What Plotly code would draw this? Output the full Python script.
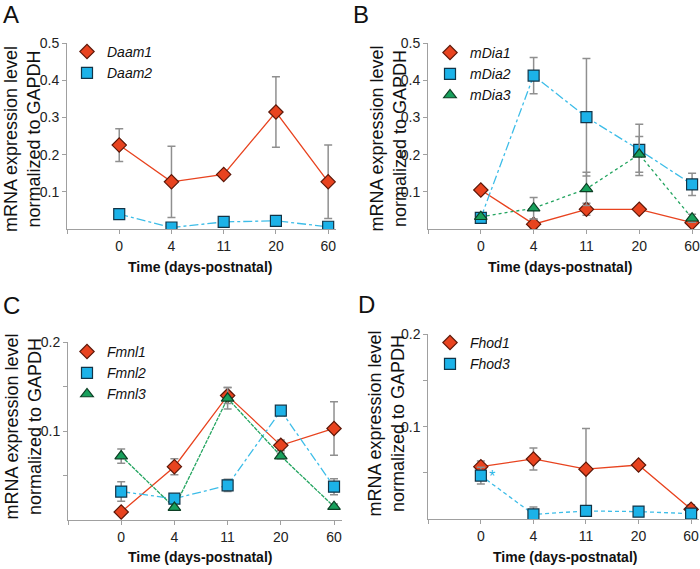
import plotly.graph_objects as go

W, H = 700, 569

days = ["0", "4", "11", "20", "60"]

# Panel A
daam1 = [0.226, 0.127, 0.147, 0.315, 0.127]
daam1_err = [0.044, 0.096, 0.0, 0.095, 0.099]
daam2 = [0.040, 0.004, 0.019, 0.022, 0.006]
daam2_err = [0.0, 0.0, 0.0, 0.0, 0.0]

# Panel B
mdia1 = [0.105, 0.013, 0.053, 0.053, 0.017]
mdia1_err = [0.007, 0.013, 0.016, 0.006, 0.006]
mdia2 = [0.030, 0.413, 0.301, 0.213, 0.120]
mdia2_err = [0.005, 0.049, 0.158, 0.069, 0.030]
mdia3 = [0.033, 0.056, 0.108, 0.201, 0.029]
mdia3_err = [0.004, 0.029, 0.045, 0.048, 0.011]

# Panel C
fmnl1 = [0.009, 0.060, 0.140, 0.084, 0.103]
fmnl1_err = [0.0, 0.009, 0.009, 0.006, 0.030]
fmnl2 = [0.032, 0.024, 0.039, 0.123, 0.0375]
fmnl2_err = [0.011, 0.0, 0.007, 0.0, 0.009]
fmnl3 = [0.072, 0.014, 0.137, 0.072, 0.015]
fmnl3_err = [0.008, 0.0, 0.012, 0.003, 0.003]

# Panel D
fhod1 = [0.0567, 0.065, 0.054, 0.0585, 0.0105]
fhod1_err = [0.006, 0.012, 0.044, 0.002, 0.005]
fhod3 = [0.047, 0.005, 0.0087, 0.008, 0.0058]
fhod3_err = [0.009, 0.008, 0.0, 0.0, 0.0]

RED = dict(fill="#e8431f", edge="#5c1708", line="#e8431f", symbol="diamond", size=11)
BLUE = dict(fill="#1cb2e8", edge="#123447", line="#3dbde8", symbol="square", size=11)
GREEN = dict(fill="#18a05c", edge="#0c3f24", line="#22a45f", symbol="triangle-up", size=11)
ERRC = "#8f8f8f"
AXC = "#a0a0a0"
FONT = "Liberation Sans, Arial, sans-serif"

xs = list(range(len(days)))

fig = go.Figure()


def px2x(p):
    return p / W


def px2y(p):
    return 1 - p / H


panels = [
    ("A", (67, 336), (43.3, 229), 0.5,
     [("Daam1", daam1, daam1_err, RED, "solid"),
      ("Daam2", daam2, daam2_err, BLUE, "dashdot")]),
    ("B", (428, 700), (43.3, 229), 0.5,
     [("mDia1", mdia1, mdia1_err, RED, "solid"),
      ("mDia2", mdia2, mdia2_err, BLUE, "dashdot"),
      ("mDia3", mdia3, mdia3_err, GREEN, "dot")]),
    ("C", (68, 342), (342.3, 520), 0.2,
     [("Fmnl1", fmnl1, fmnl1_err, RED, "solid"),
      ("Fmnl2", fmnl2, fmnl2_err, BLUE, "dashdot"),
      ("Fmnl3", fmnl3, fmnl3_err, GREEN, "4px,1px")]),
    ("D", (428.3, 699), (334.3, 519), 0.2,
     [("Fhod1", fhod1, fhod1_err, RED, "solid"),
      ("Fhod3", fhod3, fhod3_err, BLUE, "4px,3px")]),
]

legend_pos = {"A": (67, 36), "B": (430, 37), "C": (67, 336), "D": (430, 327)}

layout = dict(
    width=W, height=H, margin=dict(l=0, r=0, t=0, b=0, autoexpand=False),
    paper_bgcolor="white", plot_bgcolor="white",
    font=dict(family=FONT, size=14, color="#222"),
    annotations=[],
)

for i, (name, xd, yd, ymax, series) in enumerate(panels):
    n = i + 1
    xa = "x" if n == 1 else f"x{n}"
    ya = "y" if n == 1 else f"y{n}"
    lg = "legend" if n == 1 else f"legend{n}"
    for (lab, vals, errs, sty, dash) in series:
        fig.add_trace(go.Scatter(
            x=xs, y=vals, mode="lines", xaxis=xa, yaxis=ya,
            line=dict(color=sty["line"], width=1.3, dash=dash),
            showlegend=False, hoverinfo="skip"))
    for (lab, vals, errs, sty, dash) in series:
        fig.add_trace(go.Scatter(
            x=xs, y=vals, mode="markers", xaxis=xa, yaxis=ya,
            name=f"<i>{lab}</i>", legend=lg,
            marker=dict(symbol=sty["symbol"], size=sty["size"], color=sty["fill"],
                        line=dict(color=sty["edge"], width=1.2)),
            error_y=dict(type="data", array=errs, visible=True, color=ERRC,
                         thickness=1.5, width=4)))
    if ymax == 0.5:
        tv = [0.1, 0.2, 0.3, 0.4, 0.5]
        tt = ["0.1", "0.2", "0.3", "0.4", "0.5"]
    else:
        tv = [0.05, 0.1, 0.15, 0.2]
        tt = ["", "0.1", "", "0.2"]
    xkey = "xaxis" if n == 1 else f"xaxis{n}"
    ykey = "yaxis" if n == 1 else f"yaxis{n}"
    layout[xkey] = dict(
        domain=[px2x(xd[0]), px2x(xd[1])], anchor=ya, range=[-1, 4.15],
        tickvals=[-1] + xs, ticktext=[""] + days, ticks="outside", ticklen=4,
        tickcolor=AXC, showline=True, linecolor=AXC, linewidth=1, automargin=False,
        ticklabeloverflow="allow",
        showgrid=False, zeroline=False, tickfont=dict(size=14, color="#222"))
    layout[ykey] = dict(
        domain=[px2y(yd[1]), px2y(yd[0])], anchor=xa, range=[0, ymax],
        tickvals=tv, ticktext=tt, ticks="outside", ticklen=4, automargin=False,
        tickcolor=AXC, showline=True, linecolor=AXC, linewidth=1,
        showgrid=False, zeroline=False, tickfont=dict(size=14, color="#222"))
    lx, ly = legend_pos[name]
    layout[lg] = dict(
        x=px2x(lx), y=px2y(ly), xanchor="left", yanchor="top",
        bgcolor="rgba(0,0,0,0)", borderwidth=0, itemwidth=30,
        font=dict(size=14, color="#111", family=FONT), tracegroupgap=0)

# panel letters
for lab, (lx, ly) in {"A": (1, 14), "B": (351, 14), "C": (1, 305), "D": (356, 304)}.items():
    layout["annotations"].append(dict(
        text=lab, x=px2x(lx), y=px2y(ly), xref="paper", yref="paper",
        xanchor="left", yanchor="middle", showarrow=False,
        font=dict(size=24, color="#111", family=FONT)))

# y-axis titles
for (cx, cy) in [(22.5, 139.5), (388, 138.5), (22.5, 427), (386, 423.5)]:
    layout["annotations"].append(dict(
        text="mRNA expression level<br>normalized to GAPDH", textangle=-90,
        x=px2x(cx), y=px2y(cy), xref="paper", yref="paper",
        xanchor="center", yanchor="middle", showarrow=False,
        font=dict(size=18, color="#111", family=FONT)))

# x-axis titles
for (cx, cy) in [(200, 267), (560, 267), (200, 557), (565, 557)]:
    layout["annotations"].append(dict(
        text="<b>Time (days-postnatal)</b>",
        x=px2x(cx), y=px2y(cy), xref="paper", yref="paper",
        xanchor="center", yanchor="middle", showarrow=False,
        font=dict(size=14, color="#111", family=FONT)))

# significance asterisk in panel D
layout["annotations"].append(dict(
    text="*", x=0.21, y=0.046, xref="x4", yref="y4", xanchor="center",
    yanchor="middle", showarrow=False, font=dict(size=16, color="#29b6e6", family=FONT)))

fig.update_layout(**layout)
fig.write_html("out.html", config={"displayModeBar": False},
               post_script="document.body.style.margin='0';document.body.style.overflow='hidden';")
